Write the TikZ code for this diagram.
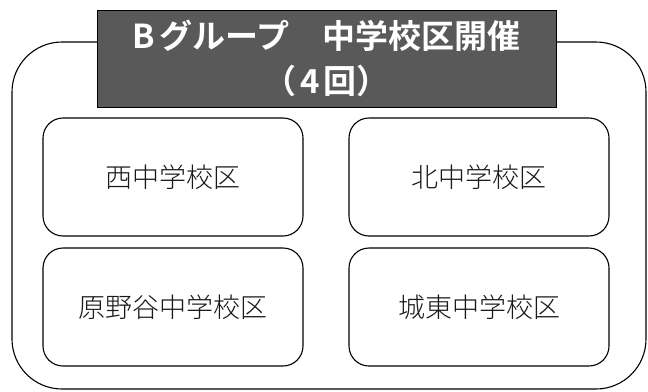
\documentclass[tikz,border=0pt]{standalone}
\usepackage{fontspec}
\setmainfont{Noto Sans CJK JP}[UprightFont={* Light}, BoldFont={* Bold}]
\usetikzlibrary{positioning}

\begin{document}
\begin{tikzpicture}[x=1pt, y=-1pt,
    schoolbox/.style={draw, line width=1.1pt, rounded corners=20pt, outer sep=0pt,
        minimum width=260pt, minimum height=118pt, text=black!90,
        font=\fontsize{27}{30}\selectfont},
    grouptitle/.style={draw, line width=0.8pt, fill=black!65, text=white, outer sep=0pt,
        minimum width=459pt, minimum height=97pt, align=center,
        font=\fontsize{33}{45}\selectfont\bfseries}]

\useasboundingbox (0, 0) rectangle (648, 391);

\draw[line width=1.1pt, rounded corners=50pt] (12, 42) rectangle (646, 389);

\node[grouptitle] (title) at (326.5, 58.5) {B\kern5pt グループ　中学校区開催\\（\kern4pt 4\kern4pt 回）};

\node[schoolbox] (nishi) at (173, 177) {西中学校区};
\node[schoolbox, right=46pt of nishi] (kita) {北中学校区};
\node[schoolbox, below=12pt of nishi] (haranoya) {原野谷中学校区};
\node[schoolbox, below=12pt of kita] (joto) {城東中学校区};

\end{tikzpicture}
\end{document}
